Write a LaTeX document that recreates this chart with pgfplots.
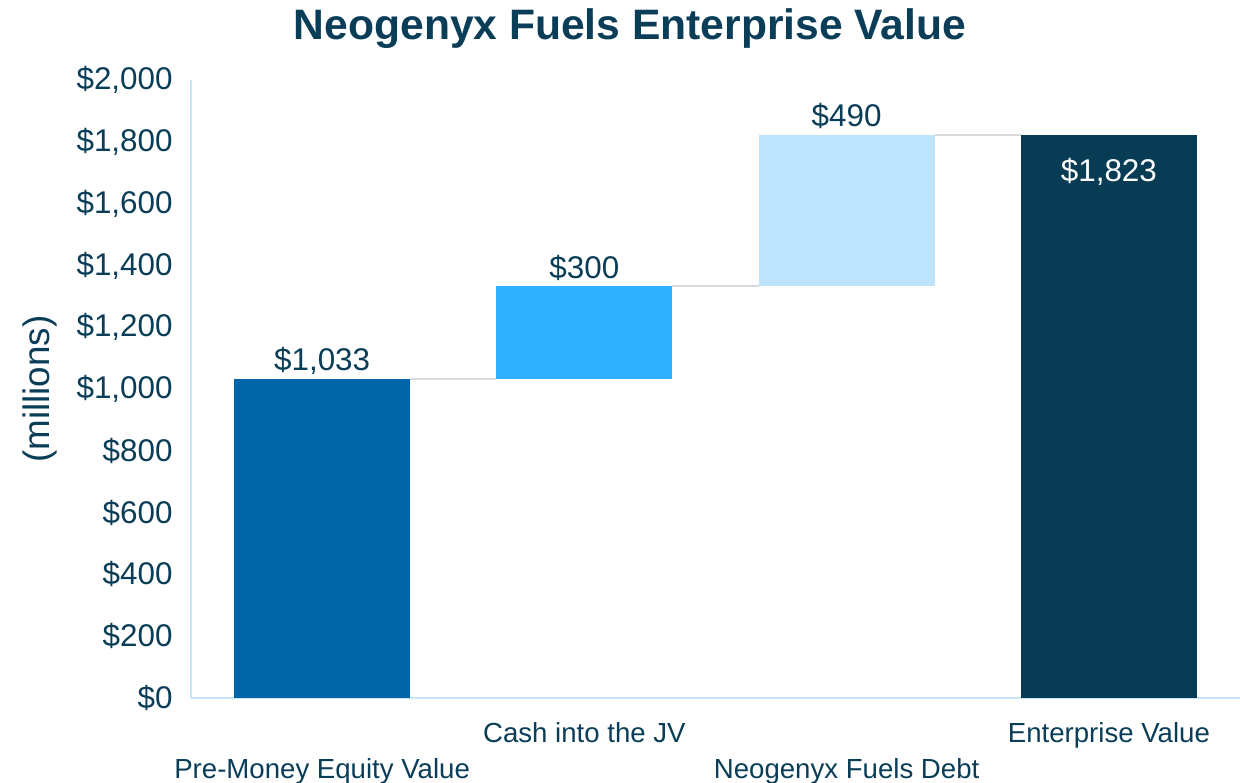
\documentclass[border=0pt]{standalone}
\usepackage{fontspec}
\setmainfont{Liberation Sans}
\usepackage{pgfplots}
\pgfplotsset{compat=1.18}

\definecolor{txt}{HTML}{0A3D57}
\definecolor{barA}{HTML}{0066A8}
\definecolor{barB}{HTML}{2FAFFF}
\definecolor{barC}{HTML}{BDE3FD}
\definecolor{barD}{HTML}{083B54}
\definecolor{axisc}{HTML}{C5E8F8}
\definecolor{conn}{HTML}{D9D9D9}

\pgfplotsset{
  wfgeom/.style={width=524.5pt,height=309pt,scale only axis,
    xmin=-0.5,xmax=3.5,ymin=0,ymax=2000},
}

\begin{document}
\begin{tikzpicture}
\begin{axis}[wfgeom,
  ybar stacked, bar width=88pt,
  axis x line*=bottom, axis y line*=left,
  axis line style={-,axisc,line width=1pt},
  major tick length=0pt,
  ytick={0,200,...,2000},
  yticklabel={\$\pgfmathprintnumber{\tick}},
  yticklabel style={/pgf/number format/1000 sep={,},
    /pgf/number format/assume math mode=true,
    font=\fontsize{15.7}{18}\selectfont, text=txt, inner sep=0pt, xshift=-9pt},
  xtick={1,3}, xticklabels={Cash into the JV,Enterprise Value},
  xticklabel style={font=\fontsize{13.8}{16}\selectfont, text=txt,
    anchor=base, inner sep=0pt, yshift=-22.4pt},
  extra x ticks={0,2},
  extra x tick labels={Pre-Money Equity Value,Neogenyx Fuels Debt},
  extra x tick style={xticklabel style={yshift=-17.6pt}},
  ylabel={(millions)},
  every axis y label/.style={at={(axis description cs:-0.144,0.5)},
    rotate=90, anchor=center, font=\fontsize{18.4}{21}\selectfont, text=txt},
  title={Neogenyx Fuels Enterprise Value},
  every axis title/.style={at={(axis description cs:0.4185,1.084)}, anchor=center,
    inner sep=0pt, font=\fontsize{21.3}{25}\selectfont\bfseries, text=txt},
]
% invisible base of the floating bars
\addplot[draw=none,fill=none,forget plot] coordinates {(0,0) (1,1033) (2,1333) (3,0)};
\addplot[draw=none,fill=barA] coordinates {(0,1033) (1,0) (2,0) (3,0)};
\addplot[draw=none,fill=barB] coordinates {(0,0) (1,300) (2,0) (3,0)};
\addplot[draw=none,fill=barC] coordinates {(0,0) (1,0) (2,490) (3,0)};
\addplot[draw=none,fill=barD] coordinates {(0,0) (1,0) (2,0) (3,1823)};
\end{axis}

\begin{axis}[wfgeom, hide axis]
% connector lines
\addplot[conn,line width=1pt] coordinates {(0.3356,1033) (0.6644,1033)};
\addplot[conn,line width=1pt] coordinates {(1.3356,1333) (1.6644,1333)};
\addplot[conn,line width=1pt] coordinates {(2.3356,1823) (2.6644,1823)};
% value labels
\addplot[draw=none, nodes near coords, point meta=explicit symbolic,
  nodes near coords style={anchor=base, yshift=3.9pt, text=txt,
    font=\fontsize{15.7}{18}\selectfont}]
  coordinates {(0,1033)[\$1,033] (1,1333)[\$300] (2,1823)[\$490]};
\addplot[draw=none, nodes near coords, point meta=explicit symbolic,
  nodes near coords style={anchor=base, yshift=-23.6pt, text=white,
    font=\fontsize{15.7}{18}\selectfont}]
  coordinates {(3,1823)[\$1,823]};
\end{axis}

\pgfresetboundingbox
\path ([xshift=-95.5pt,yshift=-42pt]current axis.south west)
  rectangle ([yshift=40pt]current axis.north east);
\end{tikzpicture}
\end{document}
